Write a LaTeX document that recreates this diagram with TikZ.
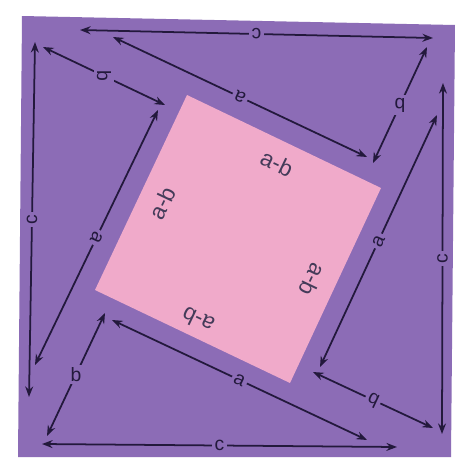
\documentclass[tikz,border=0pt]{standalone}
\usepackage{fontspec}
\setsansfont{Liberation Sans}
\usetikzlibrary{arrows.meta}
\definecolor{board}{RGB}{140,108,182}
\definecolor{inner}{RGB}{240,170,202}
\definecolor{ink}{RGB}{35,25,60}
\tikzset{
  dim/.style={draw=ink, line width=1pt, {Stealth[length=6pt,width=4.5pt]}-{Stealth[length=6pt,width=4.5pt]}},
  lbl/.style={fill=board, inner sep=1.5pt, text=ink, font=\sffamily\fontsize{11}{12}\selectfont},
  sidelbl/.style={text=ink!85, inner sep=0pt, font=\sffamily\fontsize{13}{14}\selectfont}
}
\begin{document}
\begin{tikzpicture}[x=0.02cm,y=-0.02cm]
\useasboundingbox (0,0) rectangle (474,474);
\fill[white] (0,0) rectangle (474,474);
% board and the tilted square
\fill[board] (22,16) -- (455,25) -- (451,457) -- (18,457) -- cycle;
\coordinate (sqT) at (187,95);
\coordinate (sqR) at (381,188);
\coordinate (sqB) at (290,383);
\coordinate (sqL) at (95,290);
\fill[inner] (sqT) -- (sqR) -- (sqB) -- (sqL) -- cycle;
\node[sidelbl,rotate=-25.6] (abT) at (277,163) {a-b};
\node[sidelbl,rotate=64.6] (abL) at (162,203) {a-b};
\node[sidelbl,rotate=-115.4] (abR) at (313,280) {a-b};
\node[sidelbl,rotate=154.4] (abB) at (198,320) {a-b};
% end points of the arrows
\coordinate (cT1) at (80,30);   \coordinate (cT2) at (433,38);
\coordinate (aT1) at (113,37);  \coordinate (aT2) at (367,157);
\coordinate (bT1) at (43,47);   \coordinate (bT2) at (165,105);
\coordinate (cL1) at (35,42);   \coordinate (cL2) at (29,397);
\coordinate (aL1) at (158,110); \coordinate (aL2) at (35,365);
\coordinate (bL1) at (105,313); \coordinate (bL2) at (47,436);
\coordinate (cB1) at (42,444);  \coordinate (cB2) at (397,447);
\coordinate (aB1) at (112,320); \coordinate (aB2) at (367,440);
\coordinate (bB1) at (313,372); \coordinate (bB2) at (433,428);
\coordinate (cR1) at (443,83);  \coordinate (cR2) at (442,434);
\coordinate (aR1) at (437,115); \coordinate (aR2) at (320,367);
\coordinate (bR1) at (427,47);  \coordinate (bR2) at (373,163);
% arrows
\draw[dim] (cT1) -- node[lbl,rotate=180] (cTl) {c} (cT2);
\draw[dim] (aT1) -- node[lbl,rotate=155] (aTl) {a} (aT2);
\draw[dim] (bT1) -- node[lbl,rotate=-90] (bTl) {b} (bT2);
\draw[dim] (cL1) -- node[lbl,rotate=90] (cLl) {c} (cL2);
\draw[dim] (aL1) -- node[lbl,rotate=-115] (aLl) {a} (aL2);
\draw[dim] (bL1) -- node[lbl] (bLl) {b} (bL2);
\draw[dim] (cB1) -- node[lbl] (cBl) {c} (cB2);
\draw[dim] (aB1) -- node[lbl,rotate=-25] (aBl) {a} (aB2);
\draw[dim] (bB1) -- node[lbl,rotate=155] (bBl) {b} (bB2);
\draw[dim] (cR1) -- node[lbl,rotate=90] (cRl) {c} (cR2);
\draw[dim] (aR1) -- node[lbl,rotate=65] (aRl) {a} (aR2);
\draw[dim] (bR1) -- node[lbl,rotate=180] (bRl) {b} (bR2);
\end{tikzpicture}
\end{document}
